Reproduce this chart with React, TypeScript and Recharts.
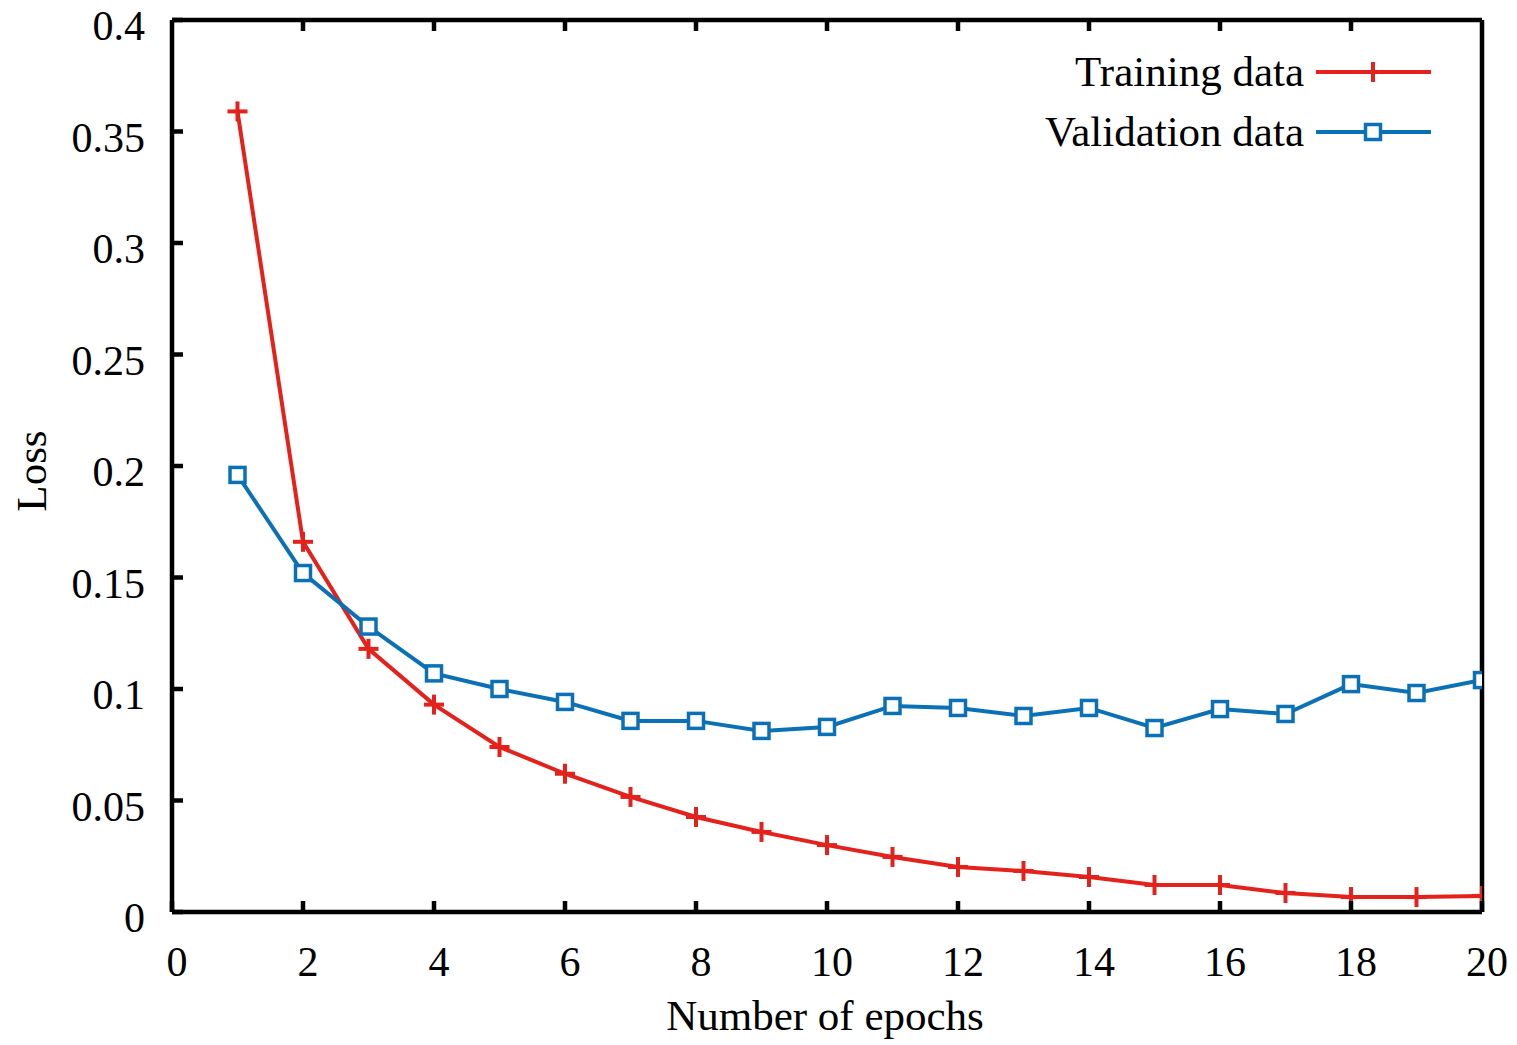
import { LineChart, Line, XAxis, YAxis, Legend } from "recharts";

/* ── Data ── */
const epochs = [1, 2, 3, 4, 5, 6, 7, 8, 9, 10, 11, 12, 13, 14, 15, 16, 17, 18, 19, 20];
const trainingLoss = [
  0.359, 0.166, 0.118, 0.093, 0.074, 0.062, 0.0516, 0.0426, 0.0359, 0.03,
  0.0247, 0.0202, 0.0184, 0.0157, 0.0121, 0.0121, 0.0085, 0.0067, 0.0067, 0.0072,
];
const validationLoss = [
  0.196, 0.152, 0.128, 0.107, 0.1, 0.0942, 0.0857, 0.0857, 0.0812, 0.083,
  0.0924, 0.0915, 0.0879, 0.0915, 0.0825, 0.091, 0.0888, 0.1022, 0.0982, 0.104,
];
const xTicks = [0, 2, 4, 6, 8, 10, 12, 14, 16, 18, 20];
const yTicks = [0, 0.05, 0.1, 0.15, 0.2, 0.25, 0.3, 0.35, 0.4];

const data = epochs.map((epoch, i) => ({
  epoch,
  training: trainingLoss[i],
  validation: validationLoss[i],
}));

const FONT = "'Liberation Serif', 'Times New Roman', serif";
const RED = "#e5211b";
const BLUE = "#0a71b6";
const TICK_LEN = 11;
const TICK_FS = 42;
const TITLE_FS = 43;

/* ── tick renderers (gnuplot style: inward ticks, labels outside) ── */
const BottomTick = (props: any) => {
  const { x, y, payload } = props;
  return (
    <g>
      <line x1={x} y1={y} x2={x} y2={y - TICK_LEN} stroke="#000" strokeWidth={4.5} />
      <text x={x + 5} y={y + 64} textAnchor="middle" fontSize={TICK_FS} fontFamily={FONT} fill="#000">
        {payload.value}
      </text>
    </g>
  );
};

const TopTick = (props: any) => {
  const { x, y } = props;
  return <line x1={x} y1={y} x2={x} y2={y + TICK_LEN} stroke="#000" strokeWidth={4.5} />;
};

const LeftTick = (props: any) => {
  const { x, y, payload } = props;
  return (
    <g>
      <line x1={x} y1={y} x2={x + TICK_LEN} y2={y} stroke="#000" strokeWidth={4.5} />
      <text x={x - 27} y={y + 20} textAnchor="end" fontSize={TICK_FS} fontFamily={FONT} fill="#000">
        {String(payload.value)}
      </text>
    </g>
  );
};

const RightTick = (props: any) => {
  const { x, y } = props;
  return <line x1={x} y1={y} x2={x - TICK_LEN} y2={y} stroke="#000" strokeWidth={4.5} />;
};

/* ── point markers ── */
const PlusDot = (props: any) => {
  const { cx, cy, index } = props;
  if (cx == null || cy == null) return null;
  return (
    <g key={`p${index}`}>
      <line x1={cx - 10} y1={cy} x2={cx + 10} y2={cy} stroke={RED} strokeWidth={4} />
      <line x1={cx} y1={cy - 10} x2={cx} y2={cy + 10} stroke={RED} strokeWidth={4} />
    </g>
  );
};

const SquareDot = (props: any) => {
  const { cx, cy, index } = props;
  if (cx == null || cy == null) return null;
  return (
    <rect
      key={`s${index}`}
      x={cx - 7.5}
      y={cy - 7.5}
      width={15}
      height={15}
      fill="#fff"
      stroke={BLUE}
      strokeWidth={3.5}
    />
  );
};

/* ── legend: text right-aligned, sample line with marker ── */
const renderLegend = (props: any) => {
  const { payload } = props;
  return (
    <div style={{ position: "absolute", left: 900, top: 42, width: 531 }}>
      {payload.map((entry: any) => (
        <div
          key={entry.value}
          style={{
            display: "flex",
            alignItems: "center",
            justifyContent: "flex-end",
            height: 60,
          }}
        >
          <span
            style={{
              fontFamily: FONT,
              fontSize: TITLE_FS,
              color: "#000",
              marginRight: 12,
              lineHeight: "60px",
            }}
          >
            {entry.value}
          </span>
          <svg width={115} height={24} style={{ display: "block" }}>
            <line x1={0} y1={12} x2={115} y2={12} stroke={entry.color} strokeWidth={4} />
            {entry.dataKey === "training" ? (
              <PlusDot cx={57} cy={12} index={0} />
            ) : (
              <SquareDot cx={57} cy={12} index={0} />
            )}
          </svg>
        </div>
      ))}
    </div>
  );
};

const XTitle = (props: any) => {
  const { viewBox } = props;
  const cx = viewBox.x + viewBox.width / 2;
  return (
    <text x={cx - 2} y={1030} textAnchor="middle" fontSize={TITLE_FS} fontFamily={FONT} fill="#000">
      Number of epochs
    </text>
  );
};

const YTitle = (props: any) => {
  const { viewBox } = props;
  const cy = viewBox.y + viewBox.height / 2;
  return (
    <text
      x={46}
      y={cy + 5}
      transform={`rotate(-90, 46, ${cy + 5})`}
      textAnchor="middle"
      fontSize={TITLE_FS}
      fontFamily={FONT}
      fill="#000"
    >
      Loss
    </text>
  );
};

export default function App() {
  return (
    <div style={{ position: "absolute", left: 0, top: 0, background: "#fff" }}>
      <LineChart
        width={1517}
        height={1045}
        data={data}
        margin={{ top: 0, right: 0, bottom: 0, left: 0 }}
      >
        <XAxis
          xAxisId="bottom"
          dataKey="epoch"
          type="number"
          domain={[0, 20]}
          ticks={xTicks}
          height={133}
          tickSize={0}
          tickMargin={0}
          tick={<BottomTick />}
          axisLine={{ stroke: "#000", strokeWidth: 4.5 }}
          tickLine={false}
          allowDataOverflow
          label={<XTitle />}
        />
        <XAxis
          xAxisId="top"
          orientation="top"
          dataKey="epoch"
          type="number"
          domain={[0, 20]}
          ticks={xTicks.slice(1, -1)}
          height={20}
          tickSize={0}
          tickMargin={0}
          tick={<TopTick />}
          axisLine={{ stroke: "#000", strokeWidth: 4.5 }}
          tickLine={false}
        />
        <YAxis
          yAxisId="left"
          domain={[0, 0.4]}
          ticks={yTicks}
          width={172}
          tickSize={0}
          tickMargin={0}
          tick={<LeftTick />}
          axisLine={{ stroke: "#000", strokeWidth: 4.5 }}
          tickLine={false}
          allowDataOverflow
          label={<YTitle />}
        />
        <YAxis
          yAxisId="right"
          orientation="right"
          domain={[0, 0.4]}
          ticks={yTicks.slice(1, -1)}
          width={35}
          tickSize={0}
          tickMargin={0}
          tick={<RightTick />}
          axisLine={{ stroke: "#000", strokeWidth: 4.5 }}
          tickLine={false}
        />
        <Legend
          layout="horizontal"
          verticalAlign="middle"
          align="center"
          content={renderLegend}
          wrapperStyle={{ left: 0, top: 0, width: 1517, height: 0 }}
        />
        <Line
          xAxisId="bottom"
          yAxisId="left"
          name="Training data"
          dataKey="training"
          type="linear"
          stroke={RED}
          strokeWidth={4}
          dot={<PlusDot />}
          activeDot={false}
          isAnimationActive={false}
        />
        <Line
          xAxisId="bottom"
          yAxisId="left"
          name="Validation data"
          dataKey="validation"
          type="linear"
          stroke={BLUE}
          strokeWidth={4}
          dot={<SquareDot />}
          activeDot={false}
          isAnimationActive={false}
        />
      </LineChart>
    </div>
  );
}
